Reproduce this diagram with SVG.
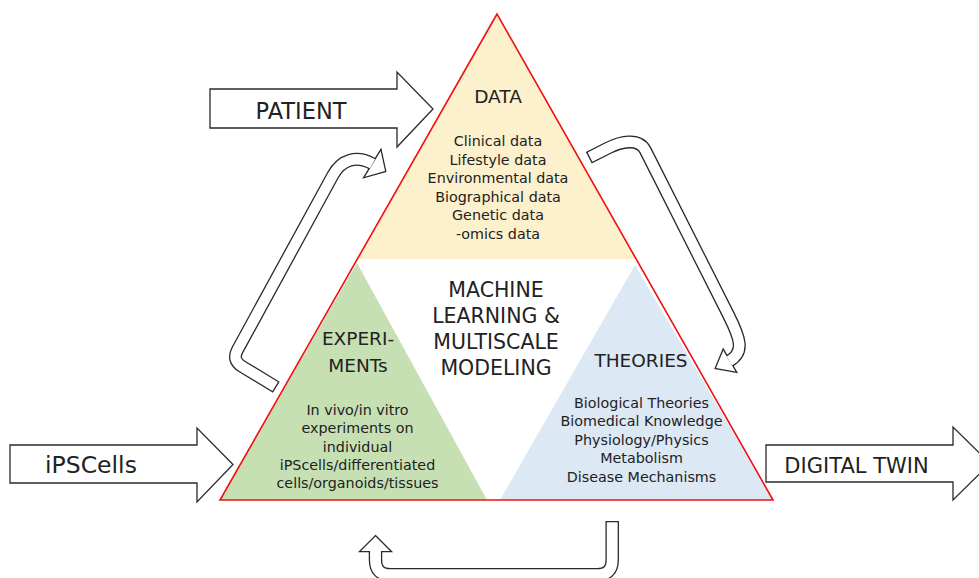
<svg xmlns="http://www.w3.org/2000/svg" width="979" height="578" viewBox="0 0 979 578">
<style>
  text { font-family: "DejaVu Sans", "Liberation Sans", sans-serif; fill: #222; text-anchor: middle; }
  .body { font-size: 14.3px; }
  .head { font-size: 18.5px; }
  .mid { font-size: 20.5px; }
  .block { fill: #fff; stroke: #2a2a2a; stroke-width: 1.3; stroke-linejoin: miter; }
  .bandO { fill: none; stroke: #2a2a2a; stroke-width: 13; stroke-linecap: butt; stroke-linejoin: round; }
  .bandI { fill: none; stroke: #fff; stroke-width: 10.4; stroke-linecap: butt; stroke-linejoin: round; }
  .headO { fill: #2a2a2a; stroke: #2a2a2a; stroke-width: 2.6; stroke-linejoin: miter; }
  .headI { fill: #fff; stroke: none; }
</style>

<!-- triangle sectors -->
<g id="data">
  <polygon points="497,14 357.5,259 636.5,259" fill="#FDF0CC"/>
  <text class="head" x="498" y="103">DATA</text>
  <text class="body" x="498" y="146">Clinical data</text>
  <text class="body" x="498" y="164.5">Lifestyle data</text>
  <text class="body" x="498" y="183">Environmental data</text>
  <text class="body" x="498" y="201.5">Biographical data</text>
  <text class="body" x="498" y="220">Genetic data</text>
  <text class="body" x="498" y="238.5">-omics data</text>
</g>

<g id="experiments">
  <polygon points="357,263 220,500 487,500" fill="#C6E0B4"/>
  <text class="head" x="358" y="345">EXPERI-</text>
  <text class="head" x="358" y="372">MENTs</text>
  <text class="body" x="357.5" y="415">In vivo/in vitro</text>
  <text class="body" x="357.5" y="433">experiments on</text>
  <text class="body" x="357.5" y="451.5">individual</text>
  <text class="body" x="357.5" y="470">iPScells/differentiated</text>
  <text class="body" x="357.5" y="488">cells/organoids/tissues</text>
</g>

<g id="theories">
  <polygon points="635,265 500,500 773,500" fill="#DDE8F5"/>
  <text class="head" x="641" y="367">THEORIES</text>
  <text class="body" x="641.5" y="407.5">Biological Theories</text>
  <text class="body" x="641.5" y="426">Biomedical Knowledge</text>
  <text class="body" x="641.5" y="444.5">Physiology/Physics</text>
  <text class="body" x="641.5" y="463">Metabolism</text>
  <text class="body" x="641.5" y="482">Disease Mechanisms</text>
</g>

<g id="outline">
  <polygon points="497,14 220,500 773,500" fill="none" stroke="#F01010" stroke-width="1.6"/>
</g>

<g id="ml-modeling">
  <text class="mid" x="496" y="297">MACHINE</text>
  <text class="mid" x="496" y="323">LEARNING &amp;</text>
  <text class="mid" x="496" y="349">MULTISCALE</text>
  <text class="mid" x="496" y="374.5">MODELING</text>
</g>

<!-- input / output block arrows -->
<g id="patient">
  <polygon class="block" points="210,89 397,89 397,72 433,109 397,147 397,128 210,128"/>
  <text x="301" y="119" style="font-size:22.5px">PATIENT</text>
</g>

<g id="ipscells">
  <polygon class="block" points="10,445 197,445 197,428 233,464.5 197,502 197,483 10,483"/>
  <text x="91" y="473" style="font-size:23.5px">iPSCells</text>
</g>

<g id="digital-twin">
  <polygon class="block" points="766,445 953,445 953,427 990,463.5 953,500 953,482 766,482"/>
  <text x="856.5" y="473" style="font-size:21px">DIGITAL TWIN</text>
</g>

<!-- cycle connectors -->
<g id="connectors">
  <!-- experiments -> data -->
  <path class="bandO" d="M 276.3,387.2 L 242.1,366.5 Q 231.8,360.3 237.5,349.8 L 333,175 C 341.6,159.2 356.8,155 372.5,163.8"/>
  <polygon class="headO" points="380.7,151 385,171 365,176.7"/>
  <path class="bandI" d="M 275.2,386.5 L 242.1,366.5 Q 231.8,360.3 237.5,349.8 L 333,175 C 341.6,159.2 356.8,155 372.5,163.8"/>
  <polygon class="headI" points="380.7,151 385,171 365,176.7"/>

  <!-- data -> theories -->
  <path class="bandO" d="M 588.8,157.8 L 608,148 C 620.5,141.6 638.9,137.5 645.2,150 L 728.5,315 C 740.2,338.2 745,352 729.4,361"/>
  <polygon class="headO" points="723.3,350.5 735.5,371.5 716,368"/>
  <path class="bandI" d="M 590,157.2 L 608,148 C 620.5,141.6 638.9,137.5 645.2,150 L 728.5,315 C 740.2,338.2 745,352 729.4,361"/>
  <polygon class="headI" points="723.3,350.5 735.5,371.5 716,368"/>

  <!-- theories -> experiments -->
  <path class="bandO" style="stroke-width:13.5" d="M 612.2,521 L 612.2,560 Q 612.2,574.8 597.4,574.8 L 390.3,574.8 Q 375.5,574.8 375.5,560 L 375.5,551"/>
  <polygon class="headO" points="375.5,536.5 390,551 361,551"/>
  <path class="bandI" style="stroke-width:10.9" d="M 612.2,522.3 L 612.2,560 Q 612.2,574.8 597.4,574.8 L 390.3,574.8 Q 375.5,574.8 375.5,560 L 375.5,551"/>
  <polygon class="headI" points="375.5,536.5 390,551 361,551"/>
</g>
</svg>
